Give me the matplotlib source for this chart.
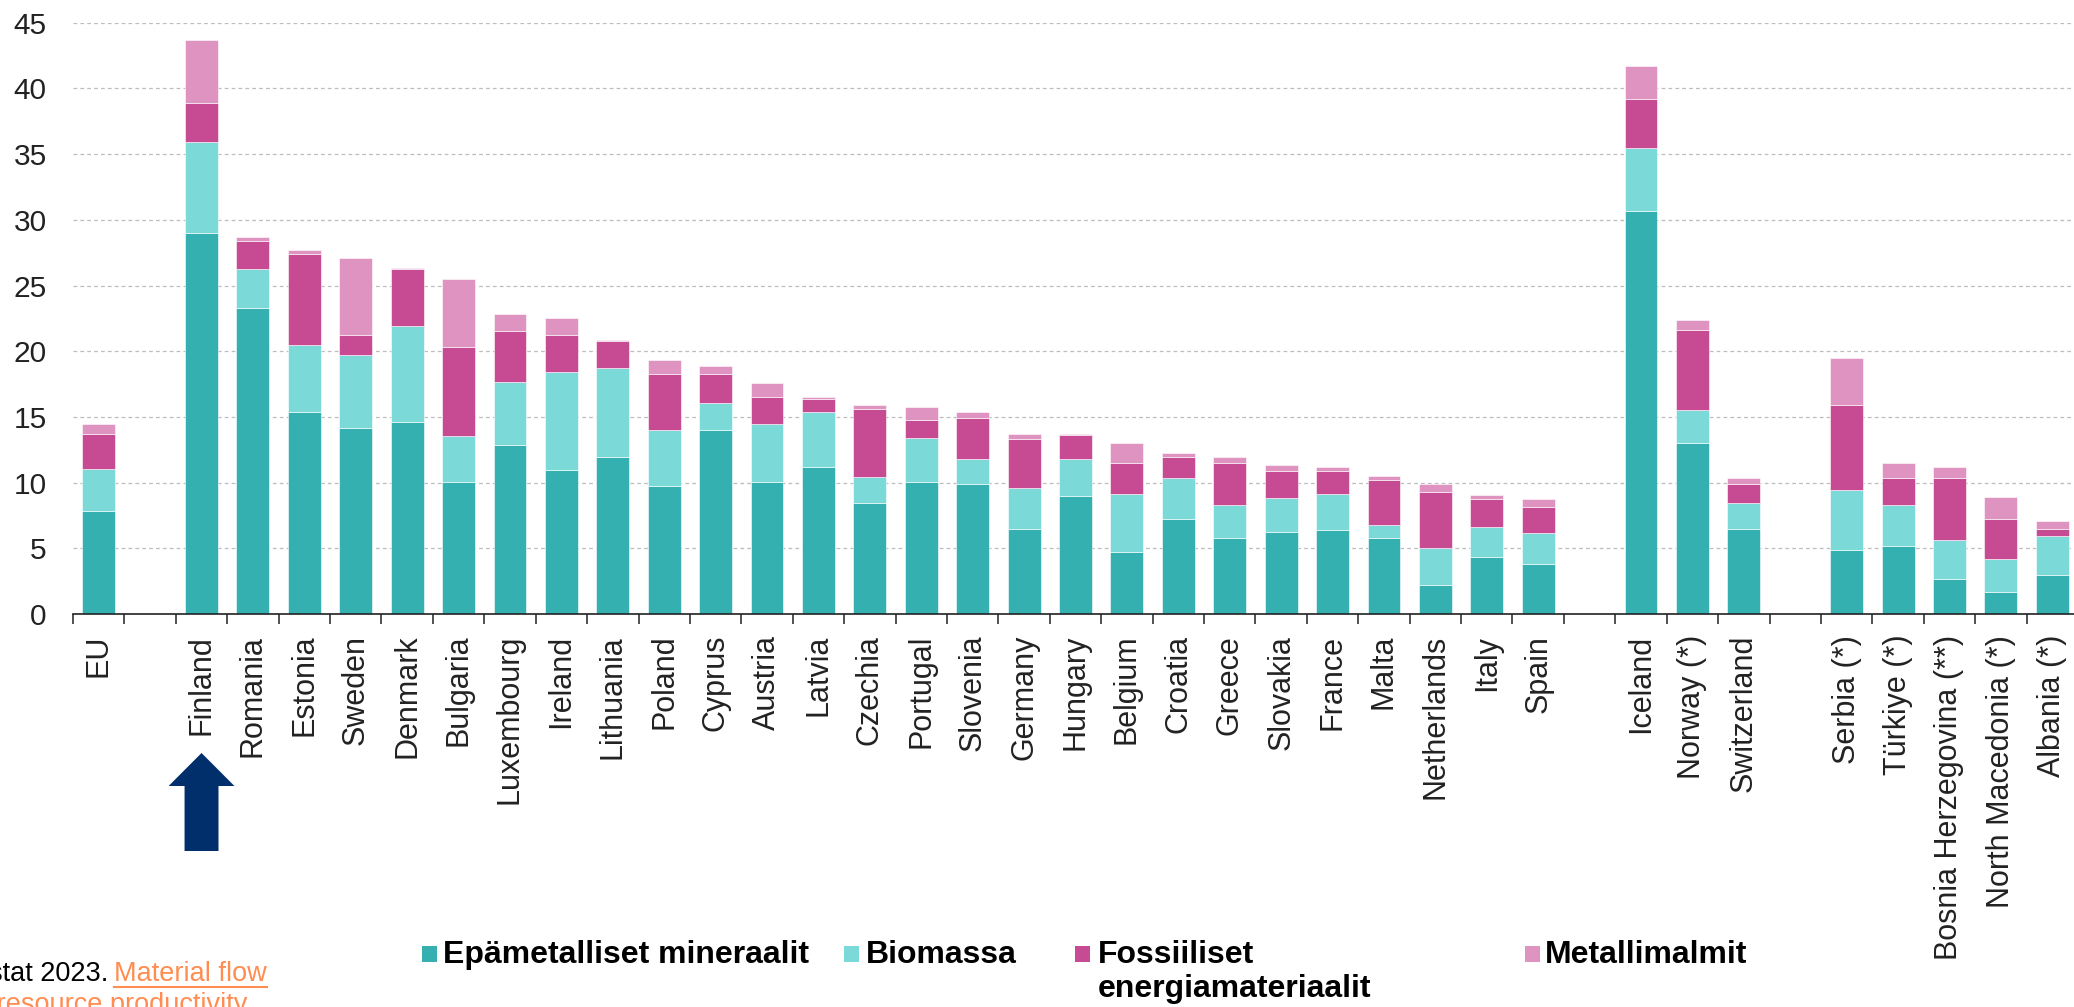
import numpy as np
import matplotlib
matplotlib.use("Agg")
import matplotlib.pyplot as plt
from matplotlib.patches import Rectangle, Polygon
from matplotlib.lines import Line2D
import matplotlib.transforms as mtransforms

plt.rcParams['font.family'] = ['Liberation Sans', 'DejaVu Sans']

# Data (tonnes per capita)
countries = ["EU",
             "Finland", "Romania", "Estonia", "Sweden", "Denmark", "Bulgaria",
             "Luxembourg", "Ireland", "Lithuania", "Poland", "Cyprus", "Austria",
             "Latvia", "Czechia", "Portugal", "Slovenia", "Germany", "Hungary",
             "Belgium", "Croatia", "Greece", "Slovakia", "France", "Malta",
             "Netherlands", "Italy", "Spain",
             "Iceland", "Norway (*)", "Switzerland",
             "Serbia (*)", "Türkiye (*)", "Bosnia Herzegovina (**)",
             "North Macedonia (*)", "Albania (*)"]
group_sizes = [1, 27, 3, 5]

mineraalit = [7.87,
              29.0, 23.26, 15.37, 14.18, 14.6, 10.03, 12.87, 10.95, 11.95, 9.76,
              13.99, 10.03, 11.22, 8.45, 10.03, 9.88, 6.49, 8.99, 4.73, 7.26,
              5.79, 6.22, 6.37, 5.76, 2.23, 4.30, 3.84,
              30.64, 12.99, 6.49,
              4.88, 5.18, 2.68, 1.65, 2.99]
biomassa = [3.2,
            6.9, 2.96, 5.09, 5.55, 7.35, 3.54, 4.81, 7.46, 6.77, 4.23,
            2.05, 4.42, 4.12, 2.01, 3.38, 1.92, 3.08, 2.81, 4.42, 3.08,
            2.47, 2.62, 2.78, 1.04, 2.8, 2.35, 2.35,
            4.82, 2.5, 1.92,
            4.57, 3.08, 2.93, 2.5, 2.92]
fossiiliset = [2.65,
               2.96, 2.19, 6.92, 1.49, 4.27, 6.77, 3.84, 2.81, 2.04, 4.27,
               2.22, 2.04, 1.0, 5.15, 1.35, 3.11, 3.72, 1.8, 2.37, 1.61,
               3.26, 2.07, 1.76, 3.38, 4.27, 2.07, 1.95,
               3.72, 6.16, 1.5,
               6.46, 2.08, 4.73, 3.11, 0.58]
metallit = [0.76,
            4.82, 0.31, 0.30, 5.88, 0.12, 5.15, 1.32, 1.34, 0.12, 1.04,
            0.61, 1.07, 0.15, 0.30, 1.0, 0.43, 0.43, 0.12, 1.47, 0.31,
            0.43, 0.46, 0.31, 0.31, 0.61, 0.30, 0.58,
            2.5, 0.76, 0.43,
            3.54, 1.18, 0.88, 1.61, 0.58]

series_names = ["Epämetalliset mineraalit", "Biomassa",
                "Fossiiliset\nenergiamateriaalit", "Metallimalmit"]
colors = ["#33B0AF", "#7BDAD8", "#C64B92", "#DF93C1"]

# x positions: one empty slot between groups
xpos = []
pos = 0
for size in group_sizes:
    xpos.extend(range(pos, pos + size))
    pos += size + 1
xpos = np.array(xpos)
n_slots = pos - 1

W, H = 2074, 1007
fig = plt.figure(figsize=(W / 100, H / 100), dpi=100)
ax = fig.add_axes([73 / W, 1 - 614 / H, (2078 - 73) / W, (614 - 22.7) / H])

bottom = np.zeros(len(countries))
for vals, col in zip([mineraalit, biomassa, fossiiliset, metallit], colors):
    ax.bar(xpos, vals, width=0.64, bottom=bottom, color=col,
           edgecolor="white", linewidth=0.4)
    bottom += np.array(vals)

ax.set_xlim(-0.5, n_slots - 0.5)
ax.set_ylim(0, 45)
ax.set_yticks(range(0, 46, 5))
ax.yaxis.grid(True, color="#BDBDBD", linewidth=0.9, linestyle=(0, (3, 2.5)))
ax.set_axisbelow(True)

for s in ["left", "right", "top"]:
    ax.spines[s].set_visible(False)
ax.spines["bottom"].set_linewidth(1.2)
ax.spines["bottom"].set_color("#222222")

ax.set_xticks(xpos)
ax.set_xticklabels(countries, rotation=90, fontsize=22, color="#222222")
ax.set_xticks(np.arange(-0.5, n_slots, 1.0), minor=True)
ax.tick_params(axis="x", which="major", length=0, pad=15)
ax.tick_params(axis="x", which="minor", length=7, width=1.1, color="#222222")
ax.tick_params(axis="y", length=0, pad=19, labelsize=21.5, labelcolor="#222222")

# arrow below Finland
fin = xpos[countries.index("Finland")]
trans = mtransforms.blended_transform_factory(ax.transData, fig.transFigure)
hw, sw = 0.64, 0.33
tip, base, end = 1 - 753 / H, 1 - 786 / H, 1 - 851 / H
arrow = Polygon([[fin, tip], [fin + hw, base], [fin + sw, base], [fin + sw, end],
                 [fin - sw, end], [fin - sw, base], [fin - hw, base]],
                closed=True, transform=trans, facecolor="#002F6C",
                edgecolor="none", clip_on=False)
fig.add_artist(arrow)

# legend
leg_sq = [422, 844, 1075, 1525]
leg_tx = [443, 866, 1098, 1545]
for name, col, sx, tx in zip(series_names, colors, leg_sq, leg_tx):
    fig.add_artist(Rectangle((sx / W, 1 - 962 / H), 15 / W, 16 / H,
                             transform=fig.transFigure, facecolor=col,
                             edgecolor="none"))
    for k, line in enumerate(name.split("\n")):
        fig.text(tx / W, 1 - (963 + 34 * k) / H, line, fontsize=23,
                 fontweight="bold", ha="left", va="baseline")

# source
fig.text(108 / W, 1 - 981 / H, "Lähde: Eurostat 2023.", fontsize=19.5,
         color="black", ha="right", va="baseline")
link1 = fig.text(114 / W, 1 - 981 / H, "Material flow", fontsize=19.5,
                 color="#FF8C50", ha="left", va="baseline")
link2 = fig.text(247 / W, 1 - 1012 / H, "accounts and resource productivity",
                 fontsize=19.5, color="#FF8C50", ha="right", va="baseline")

fig.canvas.draw()
renderer = fig.canvas.get_renderer()
for t, ybase in [(link1, 981), (link2, 1012)]:
    bb = t.get_window_extent(renderer)
    yy = H - ybase - 6
    fig.add_artist(Line2D([bb.x0, bb.x1], [yy, yy], color="#FF8C50",
                          linewidth=1.5, transform=mtransforms.IdentityTransform()))

fig.savefig("out.png", dpi=100)
